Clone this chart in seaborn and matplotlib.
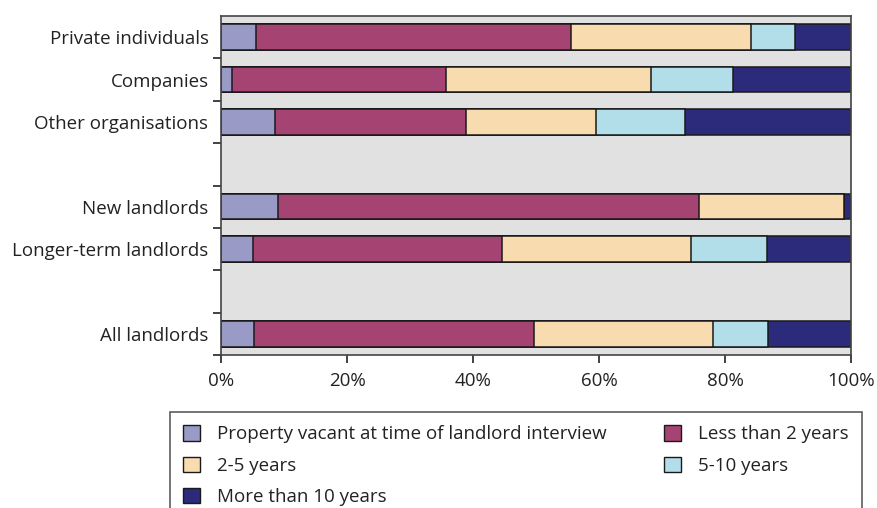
import numpy as np
import pandas as pd
import matplotlib
matplotlib.use('Agg')
import matplotlib.pyplot as plt
import seaborn as sns
from matplotlib.patches import Patch

# Data (percent of landlords)
categories = ['Private individuals', 'Companies', 'Other organisations', '',
              'New landlords', 'Longer-term landlords', ' ', 'All landlords']
series = ['Property vacant at time of landlord interview', 'Less than 2 years',
          '2-5 years', '5-10 years', 'More than 10 years']
vacant = [5.6, 1.8, 8.5, np.nan, 9.1, 5.0, np.nan, 5.3]
less_2 = [49.9, 33.9, 30.4, np.nan, 66.7, 39.6, np.nan, 44.4]
yrs_2_5 = [28.7, 32.5, 20.6, np.nan, 23.1, 30.0, np.nan, 28.4]
yrs_5_10 = [6.9, 13.1, 14.1, np.nan, 0.0, 12.1, np.nan, 8.8]
more_10 = [8.9, 18.7, 26.4, np.nan, 1.1, 13.3, np.nan, 13.1]
colors = ['#9a9ac6', '#a54473', '#f8dcb0', '#b2deea', '#2b2a7b']

df = pd.DataFrame({'category': categories})
for name, vals in zip(series, [vacant, less_2, yrs_2_5, yrs_5_10, more_10]):
    df[name] = vals
# cumulative totals so each layer can be drawn over the next one
cum = df[series].cumsum(axis=1)
cum.insert(0, 'category', categories)

sns.set_theme(style='ticks')
plt.rcParams['font.family'] = ['Open Sans', 'DejaVu Sans']
fs = 13.5

fig = plt.figure(figsize=(8.78, 5.08), dpi=100)
ax = fig.add_axes([221 / 878, 1 - 355 / 508, 630 / 878, (355 - 16) / 508])
ax.set_facecolor('#e1e1e1')

for name, col in reversed(list(zip(series, colors))):
    sns.barplot(data=cum, x=name, y='category', order=categories, orient='h',
                color=col, saturation=1, edgecolor='#1a1a1a', linewidth=1.1,
                width=0.6, errorbar=None, ax=ax)

ax.set_xlim(0, 100)
ax.set_ylim(7.5, -0.5)
ax.set_xticks(range(0, 101, 20))
ax.set_xticklabels([f'{v}%' for v in range(0, 101, 20)])
ax.set_xlabel('')
ax.set_ylabel('')
ax.set_yticks(np.arange(0.5, 8, 1), minor=True)
ax.tick_params(axis='y', which='major', length=0, pad=9, labelsize=fs,
               labelcolor='#222222')
ax.tick_params(axis='y', which='minor', length=6, width=1.2, color='#222222')
ax.tick_params(axis='x', length=6, width=1.2, color='#222222', pad=6,
               labelsize=fs, labelcolor='#222222')
for s in ax.spines.values():
    s.set_visible(True)
    s.set_color('#444444')
    s.set_linewidth(1.2)

# legend laid out row by row as in the original
order = [0, 2, 4, 1, 3]
handles = [Patch(facecolor=colors[i], edgecolor='#1a1a1a', linewidth=1) for i in order]
labels = [series[i] for i in order]
leg = fig.legend(handles, labels, loc='upper left',
                 bbox_to_anchor=(170 / 878, 0, 692 / 878, 1 - 412 / 508),
                 mode='expand', borderaxespad=0, ncol=2,
                 frameon=True, fancybox=False, edgecolor='#333333',
                 fontsize=fs, handlelength=0.9, handleheight=0.9,
                 handletextpad=0.9, columnspacing=2.0, labelspacing=0.7,
                 borderpad=0.7)
leg.get_frame().set_linewidth(1.2)
for t in leg.get_texts():
    t.set_color('#222222')

fig.savefig('out.png', dpi=100)
